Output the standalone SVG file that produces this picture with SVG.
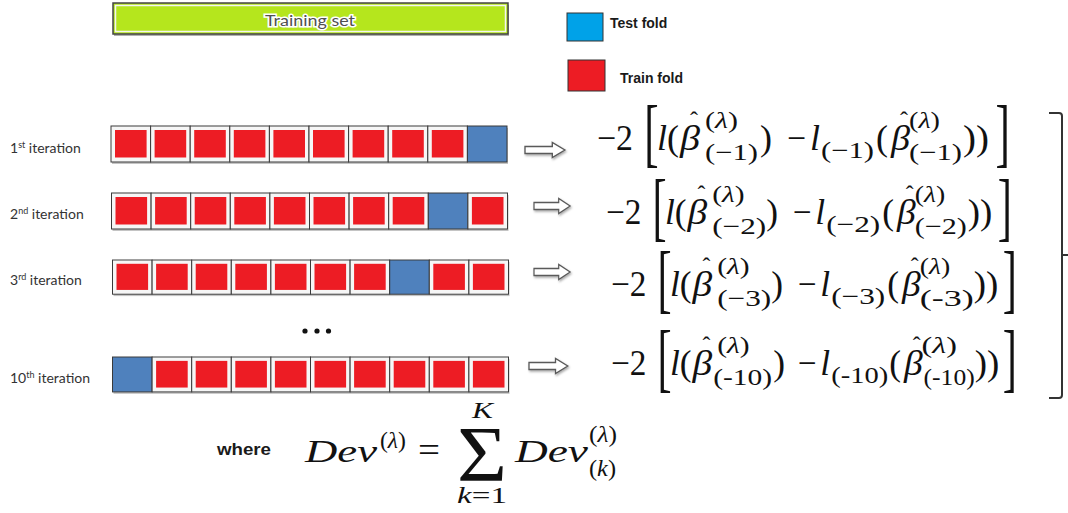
<svg xmlns="http://www.w3.org/2000/svg" xmlns:xlink="http://www.w3.org/1999/xlink" width="1068" height="513" viewBox="0 0 1068 513">
<style>
  .m{font-family:"Liberation Serif",serif;font-size:36px;fill:#111}
  .mi{font-family:"Liberation Serif",serif;font-size:36px;font-style:italic;fill:#111}
  .s{font-family:"Liberation Serif",serif;font-size:23px;fill:#111}
  .hat{font-family:"Liberation Serif",serif;font-size:24px;fill:#111}
  .br{font-family:"Liberation Serif",serif;font-size:77px;fill:#111}
  .it{font-style:italic}
  .lab{font-family:Lato,"Liberation Sans",sans-serif;font-size:14px;fill:#333}
  .leg{font-family:"Liberation Sans",Arial,sans-serif;font-size:14px;font-weight:bold;fill:#1a1a1a}
  .arr{fill:#fff;stroke:#5a5a5a;stroke-width:1.3;stroke-linejoin:miter}
</style>
<defs>
  <filter id="sh" x="-20%" y="-40%" width="140%" height="180%">
    <feDropShadow dx="1" dy="1.5" stdDeviation="0.8" flood-color="#000" flood-opacity="0.35"/>
  </filter>
  <g id="rc">
    <rect width="39.6" height="36" fill="#f6f6f6" stroke="#3a3a3a" stroke-width="1"/>
    <rect x="4" y="4" width="31.6" height="27.5" fill="#ED1C24"/>
  </g>
  <g id="bc">
    <rect width="39.6" height="36" fill="#4F81BD" stroke="#3a3a3a" stroke-width="1"/>
  </g>
  <polygon id="ar" class="arr" points="0,-3.5 26,-3.5 26,-7.5 38,0 26,7.5 26,3.5 0,3.5"/>
</defs>
<rect width="1068" height="513" fill="#fff"/>

<g id="training-set">
  <rect x="114" y="5" width="395" height="31" fill="#b0b0b0"/>
  <rect x="113" y="3" width="395" height="31" fill="#B5E61D" stroke="#444" stroke-width="1.5"/>
  <rect x="115.5" y="5.5" width="390" height="26" fill="none" stroke="#f4f4f4" stroke-width="1.5"/>
  <text x="310" y="26" text-anchor="middle" font-family="Lato,'Liberation Sans',sans-serif" font-size="16" fill="#505050" stroke="#fff" stroke-width="3" paint-order="stroke" textLength="90" lengthAdjust="spacingAndGlyphs">Training set</text>
</g>

<g id="legend-test">
  <rect x="567" y="13" width="36" height="28" fill="#00A2E8" stroke="#333" stroke-width="1"/>
  <text class="leg" x="610" y="28">Test fold</text>
</g>
<g id="legend-train">
  <rect x="568" y="60" width="37" height="31" fill="#ED1C24" stroke="#333" stroke-width="1"/>
  <text class="leg" x="620" y="83">Train fold</text>
</g>

<g id="iter1">
  <text class="lab" x="10" y="153">1<tspan font-size="9" dy="-5">st</tspan><tspan dy="5"> iteration</tspan></text>
  <g transform="translate(111,126)">
    <rect x="1" y="2" width="396" height="36" fill="#c4c4c4"/>
    <use xlink:href="#rc" x="0"/><use xlink:href="#rc" x="39.6"/><use xlink:href="#rc" x="79.2"/><use xlink:href="#rc" x="118.8"/><use xlink:href="#rc" x="158.4"/><use xlink:href="#rc" x="198"/><use xlink:href="#rc" x="237.6"/><use xlink:href="#rc" x="277.2"/><use xlink:href="#rc" x="316.8"/><use xlink:href="#bc" x="356.4"/>
  </g>
</g>
<g id="iter2">
  <text class="lab" x="10" y="219">2<tspan font-size="9" dy="-5">nd</tspan><tspan dy="5"> iteration</tspan></text>
  <g transform="translate(111.5,193)">
    <rect x="1" y="2" width="396" height="36" fill="#c4c4c4"/>
    <use xlink:href="#rc" x="0"/><use xlink:href="#rc" x="39.6"/><use xlink:href="#rc" x="79.2"/><use xlink:href="#rc" x="118.8"/><use xlink:href="#rc" x="158.4"/><use xlink:href="#rc" x="198"/><use xlink:href="#rc" x="237.6"/><use xlink:href="#rc" x="277.2"/><use xlink:href="#bc" x="316.8"/><use xlink:href="#rc" x="356.4"/>
  </g>
</g>
<g id="iter3">
  <text class="lab" x="10" y="285">3<tspan font-size="9" dy="-5">rd</tspan><tspan dy="5"> iteration</tspan></text>
  <g transform="translate(112.5,260) scale(1,0.95)">
    <rect x="1" y="2" width="396" height="36" fill="#c4c4c4"/>
    <use xlink:href="#rc" x="0"/><use xlink:href="#rc" x="39.6"/><use xlink:href="#rc" x="79.2"/><use xlink:href="#rc" x="118.8"/><use xlink:href="#rc" x="158.4"/><use xlink:href="#rc" x="198"/><use xlink:href="#rc" x="237.6"/><use xlink:href="#bc" x="277.2"/><use xlink:href="#rc" x="316.8"/><use xlink:href="#rc" x="356.4"/>
  </g>
</g>
<g id="ellipsis">
  <circle cx="305" cy="331" r="2.6" fill="#111"/>
  <circle cx="317" cy="331" r="2.6" fill="#111"/>
  <circle cx="328.5" cy="331" r="2.6" fill="#111"/>
</g>
<g id="iter10">
  <text class="lab" x="10" y="383">10<tspan font-size="9" dy="-5">th</tspan><tspan dy="5"> iteration</tspan></text>
  <g transform="translate(112.5,357) scale(1,0.97)">
    <rect x="1" y="2" width="396" height="36" fill="#c4c4c4"/>
    <use xlink:href="#bc" x="0"/><use xlink:href="#rc" x="39.6"/><use xlink:href="#rc" x="79.2"/><use xlink:href="#rc" x="118.8"/><use xlink:href="#rc" x="158.4"/><use xlink:href="#rc" x="198"/><use xlink:href="#rc" x="237.6"/><use xlink:href="#rc" x="277.2"/><use xlink:href="#rc" x="316.8"/><use xlink:href="#rc" x="356.4"/>
  </g>
</g>

<g id="connectors" filter="url(#sh)">
  <use xlink:href="#ar" transform="translate(525,150) scale(1.05,1)"/>
  <use xlink:href="#ar" transform="translate(534,206) scale(0.95,1)"/>
  <use xlink:href="#ar" transform="translate(534,272) scale(0.95,1)"/>
  <use xlink:href="#ar" transform="translate(529,366) scale(1.02,1)"/>
</g>

<g id="formula1" transform="translate(597,150)">
  <text class="m" x="0" textLength="36" lengthAdjust="spacingAndGlyphs">−2</text>
  <text class="br" transform="translate(47.2,8) scale(0.56,1)">[</text>
  <text class="mi" x="60">l</text>
  <text class="m" x="70">(</text>
  <text class="mi" x="83" textLength="20" lengthAdjust="spacingAndGlyphs">β</text>
  <text class="hat" x="93" y="-22">ˆ</text>
  <text class="s" x="108" y="-22" textLength="33" lengthAdjust="spacingAndGlyphs">(<tspan class="it">λ</tspan>)</text>
  <text class="s" x="108" y="10" textLength="53" lengthAdjust="spacingAndGlyphs">(−1)</text>
  <text class="m" x="163">)</text>
  <text class="m" x="190" textLength="19" lengthAdjust="spacingAndGlyphs">−</text>
  <text class="mi" x="213">l</text>
  <text class="s" x="224" y="8" textLength="53" lengthAdjust="spacingAndGlyphs">(−1)</text>
  <text class="m" x="279">(</text>
  <text class="mi" x="294" textLength="19" lengthAdjust="spacingAndGlyphs">β</text>
  <text class="hat" x="303" y="-22">ˆ</text>
  <text class="s" x="312" y="-22" textLength="31" lengthAdjust="spacingAndGlyphs">(<tspan class="it">λ</tspan>)</text>
  <text class="s" x="312" y="10" textLength="53" lengthAdjust="spacingAndGlyphs">(−1)</text>
  <text class="m" x="366" textLength="26" lengthAdjust="spacingAndGlyphs">))</text>
  <text class="br" transform="translate(398.5,8) scale(0.56,1)">]</text>
</g>

<g id="formula2" transform="translate(606,224) scale(0.983,1)">
  <text class="m" x="0" textLength="36" lengthAdjust="spacingAndGlyphs">−2</text>
  <text class="br" transform="translate(47.2,8) scale(0.56,1)">[</text>
  <text class="mi" x="60">l</text>
  <text class="m" x="70">(</text>
  <text class="mi" x="83" textLength="20" lengthAdjust="spacingAndGlyphs">β</text>
  <text class="hat" x="93" y="-22">ˆ</text>
  <text class="s" x="108" y="-22" textLength="33" lengthAdjust="spacingAndGlyphs">(<tspan class="it">λ</tspan>)</text>
  <text class="s" x="108" y="10" textLength="55" lengthAdjust="spacingAndGlyphs">(−2)</text>
  <text class="m" x="163">)</text>
  <text class="m" x="190" textLength="19" lengthAdjust="spacingAndGlyphs">−</text>
  <text class="mi" x="213">l</text>
  <text class="s" x="224" y="8" textLength="55" lengthAdjust="spacingAndGlyphs">(−2)</text>
  <text class="m" x="281">(</text>
  <text class="mi" x="296" textLength="19" lengthAdjust="spacingAndGlyphs">β</text>
  <text class="hat" x="305" y="-22">ˆ</text>
  <text class="s" x="314" y="-22" textLength="31" lengthAdjust="spacingAndGlyphs">(<tspan class="it">λ</tspan>)</text>
  <text class="s" x="314" y="10" textLength="53" lengthAdjust="spacingAndGlyphs">(−2)</text>
  <text class="m" x="368" textLength="25" lengthAdjust="spacingAndGlyphs">))</text>
  <text class="br" transform="translate(398.5,8) scale(0.56,1)">]</text>
</g>

<g id="formula3" transform="translate(611,296) scale(0.983,1)">
  <text class="m" x="0" textLength="36" lengthAdjust="spacingAndGlyphs">−2</text>
  <text class="br" transform="translate(47.2,8) scale(0.56,1)">[</text>
  <text class="mi" x="60">l</text>
  <text class="m" x="70">(</text>
  <text class="mi" x="83" textLength="20" lengthAdjust="spacingAndGlyphs">β</text>
  <text class="hat" x="93" y="-22">ˆ</text>
  <text class="s" x="108" y="-22" textLength="33" lengthAdjust="spacingAndGlyphs">(<tspan class="it">λ</tspan>)</text>
  <text class="s" x="108" y="10" textLength="55" lengthAdjust="spacingAndGlyphs">(−3)</text>
  <text class="m" x="163">)</text>
  <text class="m" x="190" textLength="19" lengthAdjust="spacingAndGlyphs">−</text>
  <text class="mi" x="213">l</text>
  <text class="s" x="224" y="8" textLength="55" lengthAdjust="spacingAndGlyphs">(−3)</text>
  <text class="m" x="281">(</text>
  <text class="mi" x="296" textLength="19" lengthAdjust="spacingAndGlyphs">β</text>
  <text class="hat" x="305" y="-22">ˆ</text>
  <text class="s" x="314" y="-22" textLength="31" lengthAdjust="spacingAndGlyphs">(<tspan class="it">λ</tspan>)</text>
  <text class="s" x="314" y="10" textLength="55" lengthAdjust="spacingAndGlyphs">(-3)</text>
  <text class="m" x="369" textLength="25" lengthAdjust="spacingAndGlyphs">))</text>
  <text class="br" transform="translate(398.5,8) scale(0.56,1)">]</text>
</g>

<g id="formula10" transform="translate(611,375) scale(0.983,1)">
  <text class="m" x="0" textLength="36" lengthAdjust="spacingAndGlyphs">−2</text>
  <text class="br" transform="translate(47.2,8) scale(0.56,1)">[</text>
  <text class="mi" x="60">l</text>
  <text class="m" x="70">(</text>
  <text class="mi" x="83" textLength="20" lengthAdjust="spacingAndGlyphs">β</text>
  <text class="hat" x="93" y="-22">ˆ</text>
  <text class="s" x="108" y="-22" textLength="33" lengthAdjust="spacingAndGlyphs">(<tspan class="it">λ</tspan>)</text>
  <text class="s" x="104" y="10" textLength="60" lengthAdjust="spacingAndGlyphs">(-10)</text>
  <text class="m" x="165">)</text>
  <text class="m" x="190" textLength="19" lengthAdjust="spacingAndGlyphs">−</text>
  <text class="mi" x="213">l</text>
  <text class="s" x="224" y="8" textLength="58" lengthAdjust="spacingAndGlyphs">(-10)</text>
  <text class="m" x="283">(</text>
  <text class="mi" x="298" textLength="19" lengthAdjust="spacingAndGlyphs">β</text>
  <text class="hat" x="307" y="-22">ˆ</text>
  <text class="s" x="316" y="-22" textLength="36" lengthAdjust="spacingAndGlyphs">(<tspan class="it">λ</tspan>)</text>
  <text class="s" x="318" y="10" textLength="52" lengthAdjust="spacingAndGlyphs">(-10)</text>
  <text class="m" x="370" textLength="25" lengthAdjust="spacingAndGlyphs">))</text>
  <text class="br" transform="translate(398.5,8) scale(0.56,1)">]</text>
</g>

<g id="brace">
  <path d="M1049,113 L1059,113 Q1062,113 1062,116 L1062,395 Q1062,398 1059,398 L1049,398 M1062,255 L1068,255" fill="none" stroke="#333" stroke-width="2"/>
</g>

<g id="sum-formula">
  <text x="217" y="455" font-family="'Liberation Sans',Arial,sans-serif" font-size="16" font-weight="bold" fill="#1a1a1a" textLength="54" lengthAdjust="spacingAndGlyphs">where</text>
  <text class="mi" x="305" y="462" style="font-size:31px" textLength="72" lengthAdjust="spacingAndGlyphs">Dev</text>
  <text class="s" x="380" y="448" textLength="26" lengthAdjust="spacingAndGlyphs">(<tspan class="it">λ</tspan>)</text>
  <text class="m" x="418" y="462" textLength="22" lengthAdjust="spacingAndGlyphs">=</text>
  <text class="m" x="457" y="480" style="font-size:78px" textLength="50" lengthAdjust="spacingAndGlyphs">Σ</text>
  <text class="s" x="472" y="418" style="font-style:italic" textLength="21" lengthAdjust="spacingAndGlyphs">K</text>
  <text class="s" x="457" y="503" textLength="50" lengthAdjust="spacingAndGlyphs"><tspan class="it">k</tspan>=1</text>
  <text class="mi" x="515" y="462" style="font-size:31px" textLength="73" lengthAdjust="spacingAndGlyphs">Dev</text>
  <text class="s" x="589" y="442" textLength="28" lengthAdjust="spacingAndGlyphs">(<tspan class="it">λ</tspan>)</text>
  <text class="s" x="589" y="476" textLength="27" lengthAdjust="spacingAndGlyphs">(<tspan class="it">k</tspan>)</text>
</g>
</svg>
